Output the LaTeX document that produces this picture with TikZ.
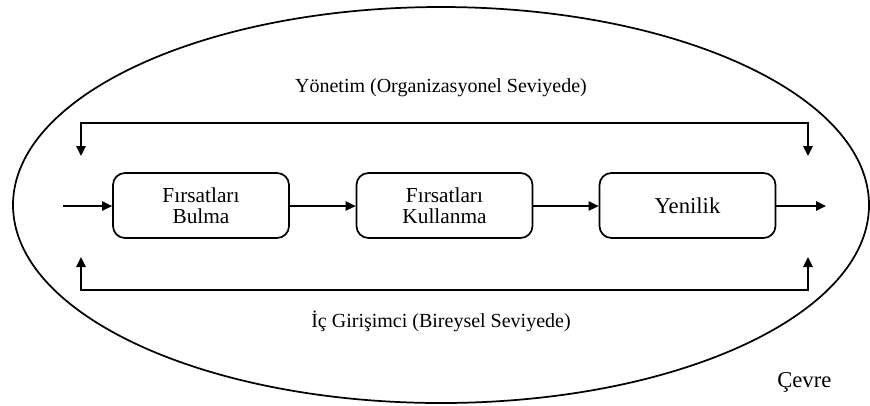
\documentclass[tikz,border=0pt]{standalone}
\usepackage{fontspec}
\setmainfont{Liberation Serif}
\usetikzlibrary{arrows.meta}
\begin{document}
\begin{tikzpicture}[x=0.75pt,y=-0.75pt,
  box/.style={draw,line width=1.3pt,rounded corners=9pt,minimum width=132pt,minimum height=48.75pt,align=center,inner sep=2pt,font=\fontsize{16}{16}\selectfont},
  conn/.style={line width=1.2pt,-{Triangle[length=7.5pt,width=7pt]}},
  bracket/.style={line width=1.2pt,{Triangle[length=7.5pt,width=7pt]}-{Triangle[length=7.5pt,width=7pt]}},
  lbl/.style={font=\fontsize{15}{18}\selectfont,anchor=base,inner sep=0pt}]
\useasboundingbox (0,0) rectangle (870,405);
\draw[line width=1.3pt] (441,205) ellipse [x radius=428, y radius=198];
\node[box] (b1) at (201,205.5) {Fırsatları\\Bulma};
\node[box] (b2) at (444.5,205.5) {Fırsatları\\Kullanma};
\node[box,font=\fontsize{17}{17}\selectfont] (b3) at (687.5,205.5) {Yenilik};
\coordinate (in) at (63,206);
\coordinate (out) at (826,206);
\draw[conn] (in) -- (b1.west |- in);
\draw[conn] (b1.east |- in) -- (b2.west |- in);
\draw[conn] (b2.east |- in) -- (b3.west |- in);
\draw[conn] (b3.east |- in) -- (out);
\coordinate (tlt) at (81,156);
\coordinate (tl) at (81,123);
\coordinate (tr) at (808,123);
\coordinate (trt) at (808,156);
\draw[bracket] (tlt) -- (tl) -- (tr) -- (trt);
\coordinate (blt) at (81,257);
\coordinate (bl) at (81,290);
\coordinate (br) at (808,290);
\coordinate (brt) at (808,257);
\draw[bracket] (blt) -- (bl) -- (br) -- (brt);
\node[lbl] (top) at (441,92) {Yönetim (Organizasyonel Seviyede)};
\node[lbl] (bot) at (441,327) {İç Girişimci (Bireysel Seviyede)};
\node[font=\fontsize{17}{18}\selectfont,anchor=base west,inner sep=0pt] (cevre) at (777,387) {Çevre};
\end{tikzpicture}
\end{document}
